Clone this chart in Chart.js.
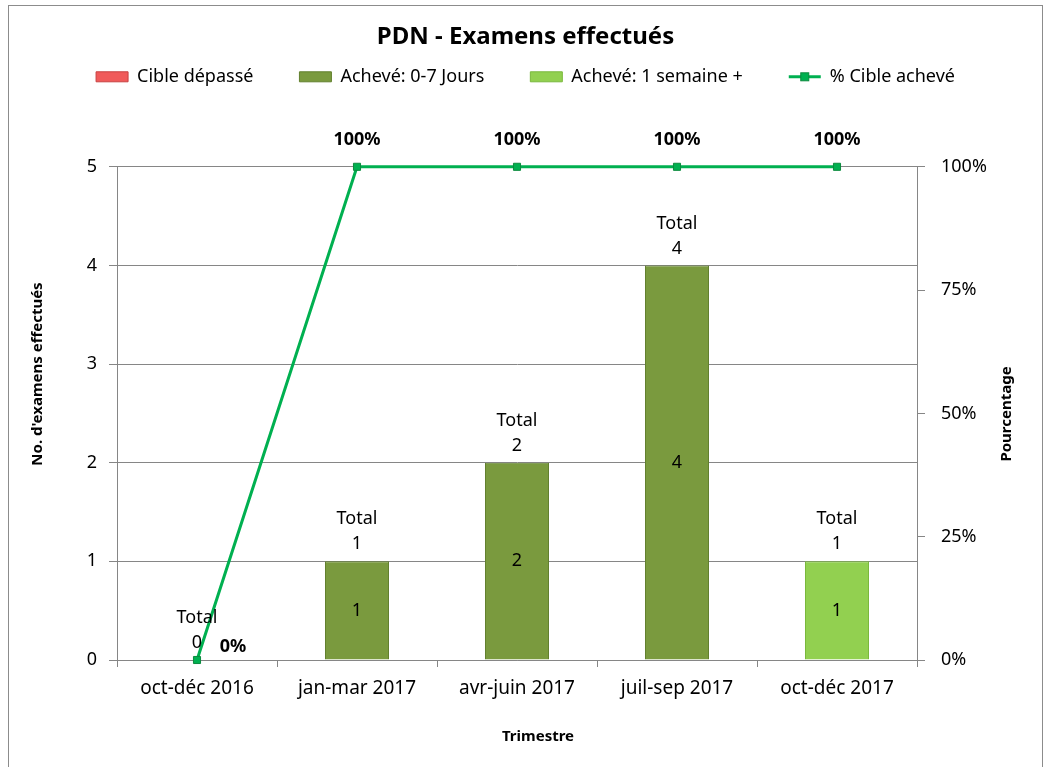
<!DOCTYPE html>
<html>
<head>
<meta charset="utf-8">
<script src="https://cdn.jsdelivr.net/npm/chart.js@4/dist/chart.umd.min.js"></script>
<style>
  html, body { margin:0; padding:0; background:#fff; }
  .wrap { position:relative; width:1051px; height:767px; }
  .frame { position:absolute; left:8px; top:5px; width:1035px; height:770px; border:1px solid #8c8c8c; box-sizing:border-box; pointer-events:none; }
  canvas { position:absolute; left:0; top:0; }
</style>
</head>
<body>
<div class="wrap">
  <canvas id="chart" width="1051" height="767"></canvas>
  <div class="frame"></div>
</div>
<script>
// données
const quarters   = ['oct-déc 2016', 'jan-mar 2017', 'avr-juin 2017', 'juil-sep 2017', 'oct-déc 2017'];
const overTarget = [0, 0, 0, 0, 0];   // Cible dépassé
const done0to7   = [0, 1, 2, 4, 0];   // Achevé: 0-7 Jours
const doneWeek   = [0, 0, 0, 0, 1];   // Achevé: 1 semaine +
const pctDone    = [0, 100, 100, 100, 100];
const countTicks = [0, 1, 2, 3, 4, 5];
const pctTicks   = [0, 25, 50, 75, 100];

// couleurs
const RED    = '#F05A5A';
const OLIVE  = '#7A9A3E';
const LIME   = '#92D050';
const LINE_G = '#00B050';
const AXIS   = '#868686';
const FONT   = "'Noto Sans', sans-serif";

// largeur fixe des axes pour caler la zone de tracé
const fixWidth = w => (scale) => { scale.width = w; };

function vText(ctx, text, x, y) {
  ctx.save();
  ctx.translate(x, y);
  ctx.rotate(-Math.PI / 2);
  ctx.fillText(text, 0, 0);
  ctx.restore();
}

// libellés : total au-dessus des piles, valeurs dans les barres, % au-dessus des points
const labelsPlugin = {
  id: 'labels',
  afterDatasetsDraw(chart) {
    const { ctx } = chart;
    const y = chart.scales.y;
    ctx.save();
    ctx.textAlign = 'center';
    ctx.textBaseline = 'middle';
    ctx.fillStyle = '#000';

    // valeurs dans les barres
    ctx.font = '18px ' + FONT;
    [0, 1, 2].forEach(di => {
      const meta = chart.getDatasetMeta(di);
      meta.data.forEach((bar, i) => {
        const v = chart.data.datasets[di].data[i];
        if (!v) return;
        ctx.fillText(String(v), bar.x, (bar.y + bar.base) / 2);
      });
    });

    // totaux
    const barMeta = chart.getDatasetMeta(1);
    quarters.forEach((q, i) => {
      const total = overTarget[i] + done0to7[i] + doneWeek[i];
      const top = y.getPixelForValue(total);
      const x = barMeta.data[i].x;
      ctx.fillText(String(total), x, top - 17);
      ctx.fillText('Total', x, top - 42);
    });

    // pourcentages
    ctx.font = 'bold 18px ' + FONT;
    chart.getDatasetMeta(3).data.forEach((pt, i) => {
      const v = pctDone[i];
      if (v === 0) ctx.fillText(v + '%', pt.x + 36, pt.y - 13);
      else ctx.fillText(v + '%', pt.x, pt.y - 27);
    });

    // titres des axes
    ctx.font = 'bold 15px ' + FONT;
    vText(ctx, "No. d'examens effectués", 38, 374);
    vText(ctx, 'Pourcentage', 1007, 414);
    ctx.fillText('Trimestre', 538, 737);
    ctx.restore();
  },
  afterDraw(chart) {
    // petit carré sur le symbole de ligne dans la légende
    const lg = chart.legend;
    const box = lg.legendHitBoxes && lg.legendHitBoxes[3];
    if (!box) return;
    const ctx = chart.ctx;
    const cx = box.left + 16, cy = box.top + box.height / 2;
    ctx.save();
    ctx.fillStyle = LINE_G;
    ctx.strokeStyle = '#0B8A3E';
    ctx.lineWidth = 1;
    ctx.fillRect(cx - 4, cy - 4, 8, 8);
    ctx.strokeRect(cx - 4, cy - 4, 8, 8);
    ctx.restore();
  }
};

// espace supplémentaire sous la légende
const legendGap = {
  id: 'legendGap',
  beforeInit(chart) {
    const fit = chart.legend.fit;
    chart.legend.fit = function () {
      fit.bind(chart.legend)();
      this.height += 71;
    };
  }
};

const el = document.getElementById('chart');
new Chart(el, {
  data: {
    labels: quarters,
    datasets: [
      { type: 'bar', label: 'Cible dépassé', data: overTarget, backgroundColor: RED, borderColor: '#C84040', borderWidth: 1, stack: 's', yAxisID: 'y' },
      { type: 'bar', label: 'Achevé: 0-7 Jours', data: done0to7, backgroundColor: OLIVE, borderColor: '#62802E', borderWidth: 1, stack: 's', yAxisID: 'y' },
      { type: 'bar', label: 'Achevé: 1 semaine +', data: doneWeek, backgroundColor: LIME, borderColor: '#7AB83C', borderWidth: 1, stack: 's', yAxisID: 'y' },
      { type: 'line', label: '% Cible achevé', data: pctDone, borderColor: LINE_G, backgroundColor: LINE_G, borderWidth: 3,
        pointStyle: 'rect', pointRadius: 5, pointBackgroundColor: LINE_G, pointBorderColor: '#0B8A3E', pointBorderWidth: 1,
        tension: 0, clip: false, yAxisID: 'y1' }
    ]
  },
  options: {
    responsive: false,
    animation: false,
    devicePixelRatio: 1,
    datasets: { bar: { barPercentage: 0.4, categoryPercentage: 1 } },
    layout: { padding: { left: 8, right: 8, top: 0, bottom: 14 } },
    plugins: {
      tooltip: { enabled: false },
      title: {
        display: true, text: 'PDN - Examens effectués', color: '#000',
        font: { family: FONT, size: 24, weight: 'bold' }, padding: { top: 23, bottom: -30 }
      },
      legend: {
        position: 'top',
        labels: {
          color: '#000', font: { family: FONT, size: 18 }, padding: 46,
          usePointStyle: true, pointStyleWidth: 32, boxHeight: 10,
          generateLabels(chart) {
            const items = Chart.defaults.plugins.legend.labels.generateLabels(chart);
            items.forEach(it => {
              if (it.datasetIndex === 3) { it.pointStyle = 'line'; it.lineWidth = 3; it.strokeStyle = LINE_G; }
              else { it.pointStyle = 'rect'; it.lineWidth = 1; }
            });
            return items;
          }
        }
      }
    },
    scales: {
      x: {
        grid: { drawOnChartArea: false, drawTicks: true, tickLength: 7, color: AXIS, offset: true },
        border: { color: AXIS, width: 1 },
        ticks: { color: '#000', font: { family: FONT, size: 19 }, padding: 10, maxRotation: 0 },
        afterFit(scale) { scale.height = 93; }
      },
      y: {
        position: 'left', stacked: true, min: 0, max: 5,
        afterBuildTicks(scale) { scale.ticks = countTicks.map(v => ({ value: v })); },
        grid: { color: AXIS, tickLength: 8 },
        border: { color: AXIS, width: 1 },
        ticks: { color: '#000', font: { family: FONT, size: 18 }, padding: 12 },
        afterFit: fixWidth(109)
      },
      y1: {
        position: 'right', min: 0, max: 100,
        afterBuildTicks(scale) { scale.ticks = pctTicks.map(v => ({ value: v })); },
        grid: { drawOnChartArea: false, color: AXIS, tickLength: 8 },
        border: { color: AXIS, width: 1 },
        ticks: { color: '#000', font: { family: FONT, size: 18 }, padding: 16, callback: v => v + '%' },
        afterFit: fixWidth(126)
      }
    }
  },
  plugins: [legendGap, labelsPlugin]
});
</script>
</body>
</html>
